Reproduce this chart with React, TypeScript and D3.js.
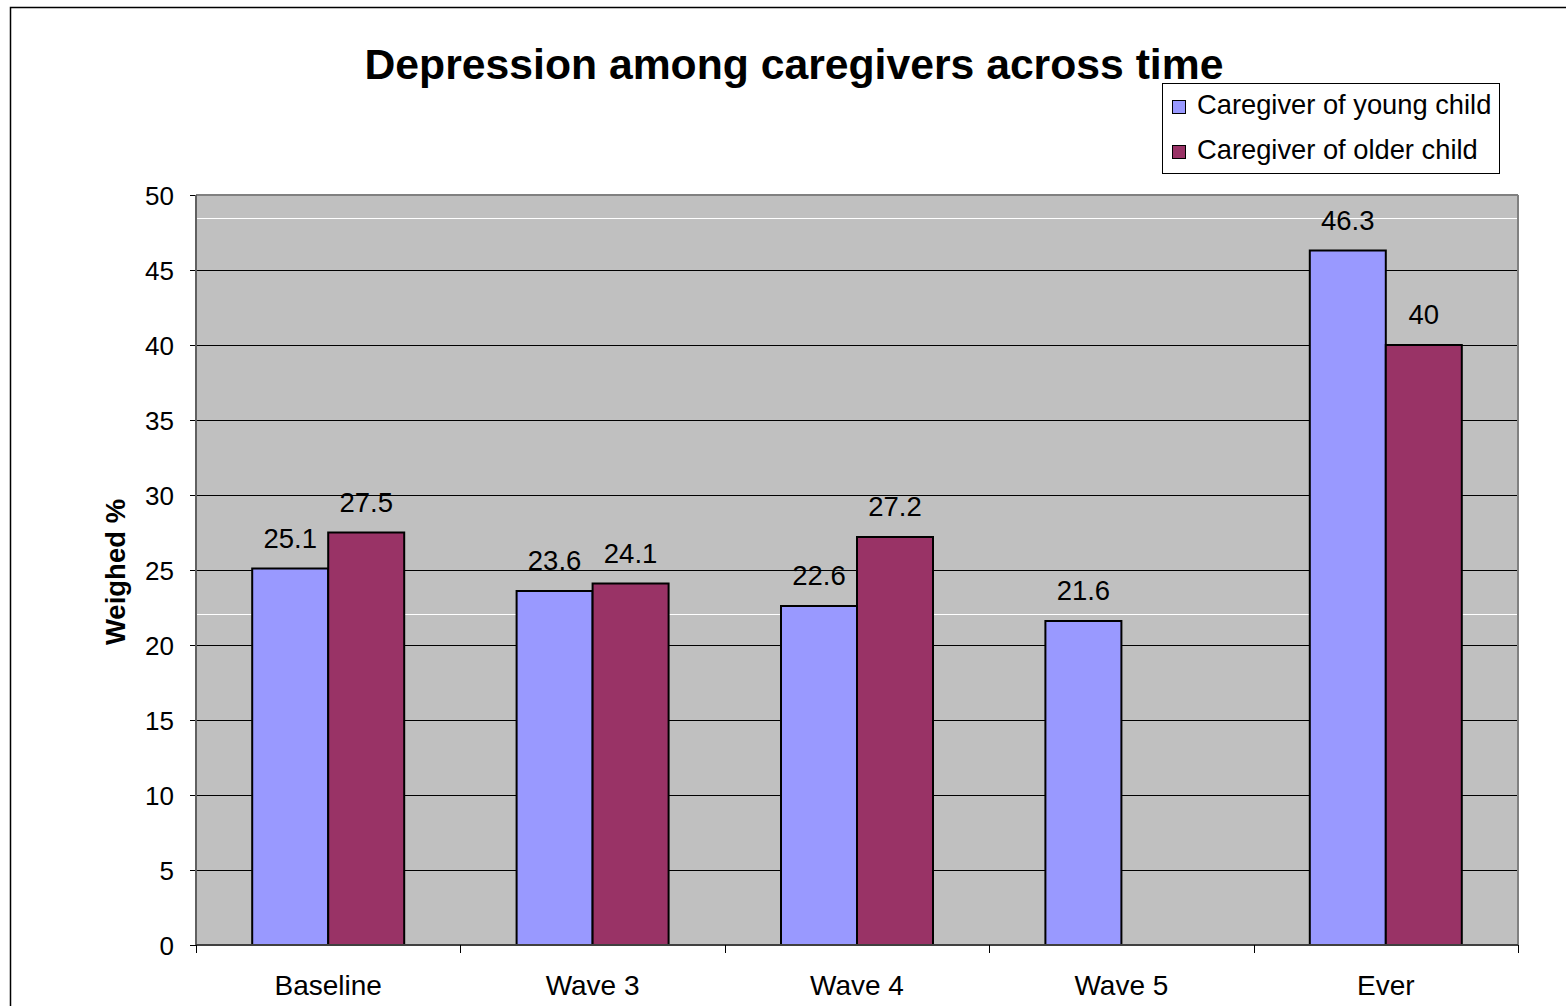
import React from "react";
import * as d3 from "d3";

const categories = ["Baseline", "Wave 3", "Wave 4", "Wave 5", "Ever"];
const seriesNames = ["Caregiver of young child", "Caregiver of older child"];
const youngChild: (number | null)[] = [25.1, 23.6, 22.6, 21.6, 46.3];
const olderChild: (number | null)[] = [27.5, 24.1, 27.2, null, 40];
const seriesColors = ["#9999FF", "#993366"];
const yTicks = [0, 5, 10, 15, 20, 25, 30, 35, 40, 45, 50];
const artifactLines = [48.5, 22.1];

export default function App() {
  const W = 1566, H = 1006;
  const left = 196, right = 1518, top = 195, bottom = 945;
  const font = "'Liberation Sans', Arial, sans-serif";
  const y = d3.scaleLinear().domain([0, 50]).range([bottom, top]);
  const x = d3.scaleBand().domain(categories).range([left, right]);
  const barW = 76;
  const series = [youngChild, olderChild];
  const crisp = (v: number) => Math.round(v) + 0.5;

  return (
    <svg width={W} height={H} style={{ position: "absolute", left: 0, top: 0 }}>
      <rect x={0} y={0} width={W} height={H} fill="#fff" />
      <rect x={10.5} y={7.5} width={W + 20} height={H + 20} fill="none" stroke="#000" strokeWidth={1.5} />
      <text x={794} y={79} textAnchor="middle" fontFamily={font} fontWeight="bold" fontSize={42.7}>
        Depression among caregivers across time
      </text>
      <rect x={left} y={top} width={right - left} height={bottom - top} fill="#C0C0C0" />
      {artifactLines.map((v, i) => (
        <line key={"a" + i} x1={left} x2={right} y1={crisp(y(v))} y2={crisp(y(v))} stroke="#fff" strokeWidth={1} />
      ))}
      {yTicks.map((t) => (
        <g key={t}>
          {t > 0 && t < 50 && (
            <line x1={left} x2={right} y1={crisp(y(t))} y2={crisp(y(t))} stroke="#000" strokeWidth={1} />
          )}
          <line x1={left - 6} x2={left} y1={crisp(y(t))} y2={crisp(y(t))} stroke="#000" strokeWidth={1} />
          <text x={174} y={y(t) + 9.5} textAnchor="end" fontFamily={font} fontSize={26}>{t}</text>
        </g>
      ))}
      <line x1={left} x2={right} y1={top} y2={top} stroke="#808080" strokeWidth={2} />
      <line x1={right} x2={right} y1={top} y2={bottom} stroke="#808080" strokeWidth={2} />
      <line x1={left} x2={left} y1={top} y2={bottom} stroke="#606060" strokeWidth={2} />
      {categories.map((c, ci) => {
        const cx = (x(c) as number) + x.bandwidth() / 2;
        return (
          <g key={c}>
            {series.map((s, si) => {
              const v = s[ci];
              if (v == null) return null;
              const bx = cx - barW + si * barW;
              return (
                <g key={si}>
                  <rect x={bx} y={y(v)} width={barW} height={bottom - y(v)} fill={seriesColors[si]} stroke="#000" strokeWidth={2} />
                  <text x={bx + barW / 2} y={y(v) - 21} textAnchor="middle" fontFamily={font} fontSize={27.5}>{v}</text>
                </g>
              );
            })}
            <text x={cx} y={995} textAnchor="middle" fontFamily={font} fontSize={28}>{c}</text>
          </g>
        );
      })}
      <line x1={left} x2={right} y1={bottom} y2={bottom} stroke="#404040" strokeWidth={2} />
      {[...categories.map((c) => x(c) as number), right].map((tx, i) => (
        <line key={"xt" + i} x1={crisp(tx)} x2={crisp(tx)} y1={bottom} y2={bottom + 8} stroke="#000" strokeWidth={1} />
      ))}
      <text transform={`translate(125, 572) rotate(-90)`} textAnchor="middle" fontFamily={font} fontWeight="bold" fontSize={27.5}>
        Weighed %
      </text>
      <rect x={1162.5} y={83.5} width={337} height={90} fill="#fff" stroke="#000" strokeWidth={1} />
      {seriesNames.map((n, i) => (
        <g key={n}>
          <rect x={1172.5} y={100.5 + i * 45} width={13} height={13} fill={seriesColors[i]} stroke="#000" strokeWidth={1} />
          <text x={1197} y={114 + i * 45} fontFamily={font} fontSize={27.3}>{n}</text>
        </g>
      ))}
    </svg>
  );
}
